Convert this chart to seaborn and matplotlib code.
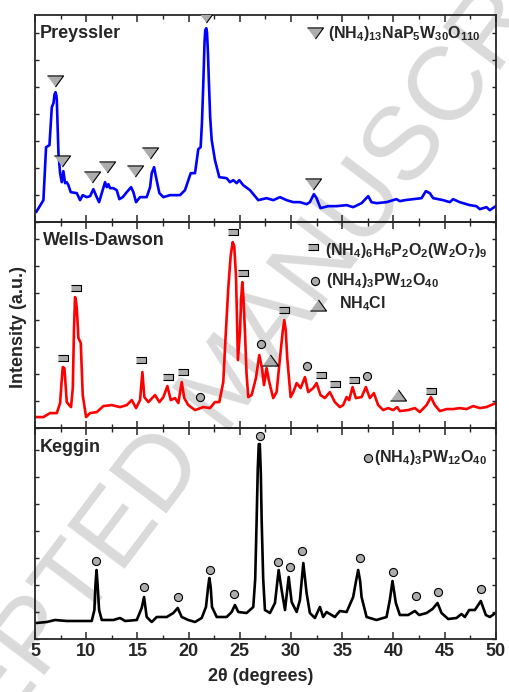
import matplotlib
matplotlib.use("Agg")
import matplotlib.pyplot as plt
from matplotlib.ticker import MultipleLocator, NullFormatter
import seaborn as sns

# ---------------- DATA ----------------
# Preyssler pattern
preyssler_2theta = [5.1, 5.81, 6.07, 6.4, 6.63, 6.79, 6.9, 6.99, 7.07, 7.12, 7.2, 7.28, 7.44, 7.6,
                    7.76, 7.93, 8.09, 8.25, 8.48, 9.07, 9.39, 9.65, 10.05, 10.37, 10.69, 11.02,
                    11.25, 11.51, 11.83, 12.0, 12.16, 12.32, 12.64, 12.97, 13.23, 13.56, 13.95,
                    14.37, 14.6, 14.86, 15.25, 15.9, 16.23, 16.39, 16.62, 16.81, 17.14, 17.53,
                    18.18, 19.15, 19.64, 20.2, 20.62, 20.94, 21.17, 21.3, 21.43, 21.55, 21.62,
                    21.72, 21.79, 21.88, 21.98, 22.1, 22.25, 22.57, 22.99, 23.71, 24.03, 24.36,
                    24.69, 24.94, 25.33, 25.99, 26.8, 27.61, 28.26, 28.92, 29.57, 30.22, 30.87,
                    31.52, 31.84, 32.23, 32.49, 32.88, 33.63, 34.44, 35.43, 36.07, 36.89, 37.54,
                    37.86, 38.35, 39.33, 40.3, 40.63, 41.12, 41.93, 42.75, 43.17, 43.56, 43.88,
                    44.86, 45.51, 45.83, 46.48, 47.46, 48.11, 48.44, 49.09, 49.42, 50.0]
preyssler_int = [10, 22, 75, 77, 115, 119, 128, 130, 127, 122, 95, 69, 49, 40,
                 51, 39, 40, 37, 30, 29, 22, 27, 25, 26, 33, 25,
                 20, 29, 40, 35, 38, 34, 34, 32, 23, 25, 30,
                 35, 30, 20, 25, 25, 35, 49, 55, 45, 29, 25,
                 27, 27, 32, 49, 49, 73, 75, 100, 139, 180, 192,
                 194, 190, 170, 139, 105, 82, 62, 45, 44, 40, 42,
                 39, 42, 37, 32, 22, 24, 22, 25, 22, 20, 20,
                 18, 20, 28, 24, 14, 16, 16, 17, 15, 19, 26,
                 20, 19, 20, 23, 21, 22, 23, 24, 31, 29, 24,
                 22, 20, 23, 20, 17, 16, 13, 15, 12, 16]
preyssler_tri_x = [6.95, 7.67, 10.53, 12.0, 14.76, 16.23, 21.69, 32.17]
preyssler_tri_y = [141, 61, 45, 55, 51, 69, 205, 38]

# Wells-Dawson pattern
wd_2theta = [5.1, 5.81, 6.46, 7.12, 7.44, 7.6, 7.7, 7.86, 8.0, 8.09, 8.32, 8.51, 8.68, 8.8, 8.9,
             8.98, 9.07, 9.23, 9.46, 9.65, 9.98, 10.37, 11.02, 11.67, 12.48, 13.3, 13.95, 14.44,
             14.86, 15.25, 15.48, 15.67, 16.06, 16.71, 17.14, 17.53, 17.92, 18.25, 18.67, 18.99,
             19.32, 19.57, 19.96, 20.62, 21.43, 22.08, 22.57, 22.99, 23.38, 23.6, 23.87, 24.1,
             24.3, 24.45, 24.62, 24.72, 24.81, 25.01, 25.13, 25.24, 25.35, 25.5, 25.65, 25.82,
             26.15, 26.57, 26.9, 27.16, 27.36, 27.61, 27.87, 28.26, 28.59, 28.92, 29.2, 29.34,
             29.48, 29.63, 29.96, 30.22, 30.55, 30.94, 31.36, 31.68, 32.17, 32.49, 32.88, 33.3,
             33.79, 34.28, 34.77, 35.09, 35.43, 35.68, 36.01, 36.33, 36.89, 37.31, 37.7, 38.09,
             38.51, 39.0, 39.49, 39.98, 40.37, 40.63, 41.44, 42.1, 42.58, 43.24, 43.66, 44.05,
             44.54, 45.19, 45.83, 46.48, 47.14, 47.79, 48.44, 49.09, 50.0]
wd_int = [11, 11, 15, 15, 25, 48, 61, 60, 40, 26, 23, 21, 40, 100, 131,
          128, 120, 90, 85, 33, 11, 15, 16, 22, 23, 21, 23, 28,
          20, 28, 56, 31, 26, 33, 26, 31, 42, 28, 30, 25,
          46, 30, 23, 18, 21, 20, 26, 26, 46, 90, 140, 172,
          186, 182, 153, 110, 68, 96, 130, 146, 130, 96, 55, 31,
          33, 50, 73, 60, 43, 60, 46, 30, 36, 70, 98, 108,
          98, 70, 31, 36, 45, 40, 51, 36, 40, 45, 33, 30,
          36, 26, 21, 23, 31, 28, 41, 30, 31, 41, 30, 35,
          23, 18, 20, 18, 21, 17, 18, 20, 16, 23, 31, 23,
          17, 19, 19, 20, 19, 22, 20, 21, 25]
wd_rect_x = [7.7, 9.03, 15.38, 17.96, 19.49, 24.3, 25.27, 29.34, 32.91, 34.31, 36.11, 43.66]
wd_rect_y = [70, 140, 68, 51, 56, 196, 155, 118, 53, 44, 48, 37]
wd_circ_x = [21.14, 27.09, 31.58, 37.41]
wd_circ_y = [31, 84, 62, 52]
wd_tri_x = [27.9, 40.47]
wd_tri_y = [68, 33]

# Keggin pattern
keggin_2theta = [5.1, 6.14, 6.95, 8.09, 9.39, 10.53, 10.79, 10.9, 11.0, 11.1, 11.25, 11.51, 12.64,
                 13.3, 13.79, 14.93, 15.41, 15.64, 15.9, 16.39, 16.88, 17.86, 18.5, 18.93, 19.32,
                 19.96, 20.62, 21.27, 21.69, 21.9, 22.02, 22.15, 22.28, 22.74, 23.71, 24.2, 24.52,
                 24.85, 25.66, 26.31, 26.5, 26.64, 26.75, 26.85, 26.95, 27.05, 27.13, 27.28, 27.45,
                 27.94, 28.43, 28.79, 29.08, 29.41, 29.77, 30.06, 30.55, 30.87, 31.2, 31.52, 31.84,
                 32.33, 32.82, 33.14, 33.47, 33.96, 34.28, 34.77, 35.43, 36.07, 36.35, 36.56, 36.75,
                 36.89, 37.38, 38.35, 39.33, 39.65, 39.91, 40.24, 40.63, 41.44, 42.1, 42.52, 43.24,
                 43.82, 44.31, 44.7, 45.35, 46.16, 46.65, 46.98, 47.4, 47.96, 48.54, 49.03, 49.42,
                 49.97]
keggin_int = [16, 17, 19, 18, 18, 18, 29, 55, 69, 55, 29, 19, 19,
              21, 18, 19, 31, 42, 22, 17, 22, 22, 26, 31, 22,
              19, 17, 21, 32, 52, 61, 52, 32, 22, 22, 27, 34,
              27, 26, 32, 60, 119, 170, 195, 195, 165, 119, 60, 29,
              26, 36, 69, 49, 29, 62, 37, 27, 39, 76, 46, 26,
              21, 32, 22, 27, 24, 22, 28, 27, 42, 58, 69, 58,
              42, 22, 19, 22, 39, 58, 36, 24, 24, 28, 24, 26,
              30, 36, 26, 20, 21, 25, 22, 29, 29, 38, 24, 22,
              26]
keggin_circ_x = [10.98, 15.67, 18.99, 22.08, 24.45, 26.96, 28.76, 29.9, 31.1, 36.69, 39.93, 42.24,
                 44.34, 48.54]
keggin_circ_y = [78, 52, 42, 69, 45, 203, 77, 72, 88, 81, 67, 43, 47, 50]

panel_names = ["Preyssler", "Wells-Dawson", "Keggin"]
panel_tops = [207, 206, 211]

# ---------------- STYLE ----------------
sns.set_style("ticks")
plt.rcParams["font.family"] = ["Liberation Sans", "DejaVu Sans"]
plt.rcParams["font.weight"] = "bold"
plt.rcParams["mathtext.default"] = "regular"
plt.rcParams["axes.linewidth"] = 1.3

GRAY = "#acacac"
tri_down = [(-1, 0.69), (1, 0.69), (0, -0.69)]
tri_up = [(-1, -0.69), (1, -0.69), (0, 0.69)]
rect = [(-1, -0.62), (1, -0.62), (1, 0.62), (-1, 0.62)]
mk = dict(color=GRAY, edgecolor="black", linewidth=0.8, zorder=5, clip_on=True, legend=False)
LEG_FS = 11.5

fig = plt.figure(figsize=(5.09, 6.92), dpi=100)
gs = fig.add_gridspec(3, 1, left=0.069, right=0.974, top=0.978, bottom=0.0766,
                      hspace=0, height_ratios=panel_tops)
axes = [fig.add_subplot(gs[i]) for i in range(3)]

# watermark
fig.text(0.455, 0.445, "ACCEPTED MANUSCRIPT", rotation=53, fontsize=75, fontweight="normal",
         color="#dadada", ha="center", va="center", zorder=-1)
fig.patch.set_facecolor("white")

ax1, ax2, ax3 = axes
sns.lineplot(x=preyssler_2theta, y=preyssler_int, ax=ax1, color="#0000ff", lw=1.9)
sns.scatterplot(x=preyssler_tri_x, y=preyssler_tri_y, ax=ax1, marker=tri_down, s=135, **mk)

sns.lineplot(x=wd_2theta, y=wd_int, ax=ax2, color="#ff0000", lw=1.9)
sns.scatterplot(x=wd_rect_x, y=wd_rect_y, ax=ax2, marker=rect, s=55, **mk)
sns.scatterplot(x=wd_circ_x, y=wd_circ_y, ax=ax2, marker="o", s=34, **mk)
sns.scatterplot(x=wd_tri_x, y=wd_tri_y, ax=ax2, marker=tri_up, s=135, **mk)

sns.lineplot(x=keggin_2theta, y=keggin_int, ax=ax3, color="black", lw=1.9)
sns.scatterplot(x=keggin_circ_x, y=keggin_circ_y, ax=ax3, marker="o", s=34, **mk)

for ax, name, top in zip(axes, panel_names, panel_tops):
    ax.set_facecolor("none")
    ax.set_xlim(5, 50)
    ax.set_ylim(0, top)
    ax.xaxis.set_major_locator(MultipleLocator(5))
    ax.xaxis.set_minor_locator(MultipleLocator(2.5))
    ax.yaxis.set_major_locator(MultipleLocator(27))
    ax.yaxis.set_major_formatter(NullFormatter())
    ax.tick_params(axis="x", which="major", direction="in", top=True, length=5, width=1.1,
                   labelsize=13, pad=3)
    ax.tick_params(axis="x", which="minor", direction="in", top=True, length=3, width=1)
    ax.tick_params(axis="y", direction="in", right=True, length=3, width=1)
    ax.set_xlabel("")
    ax.set_ylabel("")
    ax.text(0.01 if name != "Wells-Dawson" else 0.017, 0.91, name, transform=ax.transAxes,
            fontsize=13, fontweight="bold", va="center", ha="left")
    if ax is not ax3:
        ax.tick_params(axis="x", labelbottom=False)
    for lbl in ax.get_xticklabels():
        lbl.set_fontweight("bold")

# legends drawn by hand as in the original
sns.scatterplot(x=[32.33], y=[189], ax=ax1, marker=tri_down, s=135, **mk)
ax1.text(33.6, 184, r"(NH$_4$)$_{13}$NaP$_5$W$_{30}$O$_{110}$", fontsize=LEG_FS, fontweight="bold",
         va="baseline")

sns.scatterplot(x=[32.14], y=[181], ax=ax2, marker=rect, s=55, **mk)
ax2.text(33.3, 173, r"(NH$_4$)$_6$H$_6$P$_2$O$_2$(W$_2$O$_7$)$_9$", fontsize=LEG_FS,
         fontweight="bold", va="baseline")
sns.scatterplot(x=[32.3], y=[147], ax=ax2, marker="o", s=34, **mk)
ax2.text(33.4, 143, r"(NH$_4$)$_3$PW$_{12}$O$_{40}$", fontsize=LEG_FS, fontweight="bold",
         va="baseline")
sns.scatterplot(x=[32.6], y=[123], ax=ax2, marker=tri_up, s=135, **mk)
ax2.text(34.7, 120, r"NH$_4$Cl", fontsize=LEG_FS, fontweight="bold", va="baseline")

sns.scatterplot(x=[37.56], y=[181], ax=ax3, marker="o", s=34, **mk)
ax3.text(38.1, 177, r"(NH$_4$)$_3$PW$_{12}$O$_{40}$", fontsize=LEG_FS, fontweight="bold",
         va="baseline")

fig.text(0.513, 0.022, "2\u03b8 (degrees)", ha="center", va="center", fontsize=13, fontweight="bold")
fig.text(0.036, 0.527, "Intensity (a.u.)", ha="center", va="center", rotation=90, fontsize=13,
         fontweight="bold")

fig.savefig("out.png", dpi=100)
